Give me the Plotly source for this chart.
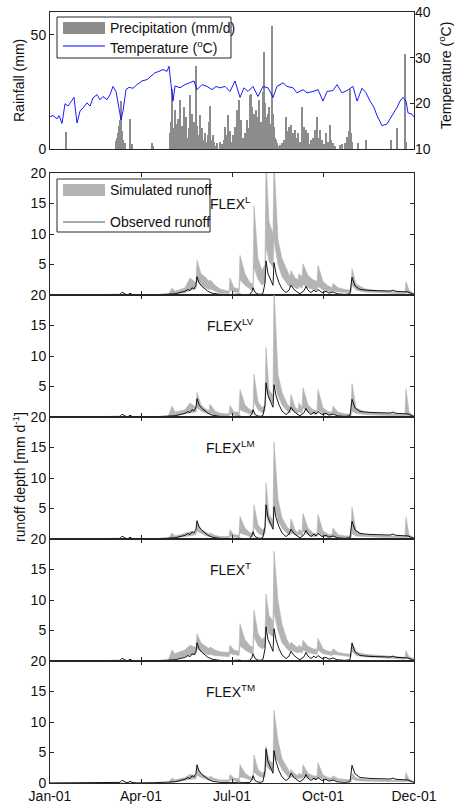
import plotly.graph_objects as go

# ---------------- data ----------------
# Daily precipitation (mm/d), day index from 1 Jan 2001
rain_day = [16, 66, 67, 68, 69, 70, 71, 72, 73, 75, 80, 82, 102, 103,
            120, 121, 122, 123, 124, 125, 126, 127, 128, 129, 130, 131, 132, 133, 134, 135, 136, 137, 138, 139,
            140, 141, 142, 143, 144, 145, 146, 147, 148, 149, 150, 151, 152, 153, 154, 155, 156, 157, 158, 159,
            160, 161, 162, 163, 164, 165, 167, 170, 172, 174, 175, 176, 177, 178, 179, 180, 181, 183, 184, 185,
            186, 187, 188, 189, 190, 191, 192, 193, 194, 195, 196, 197, 198, 199, 200, 201, 202, 203, 204, 205,
            206, 207, 208, 209, 210, 211, 212, 213, 214, 215, 216, 217, 218, 219, 220, 221, 222, 223, 224, 225,
            226, 227, 228, 230, 232, 234, 236, 237, 238, 239, 240, 241, 242, 243, 244, 245, 246, 247, 248, 250,
            252, 253, 254, 255, 256, 257, 258, 259, 261, 263, 265, 267, 268, 269, 270, 272, 274, 276, 278, 280,
            281, 283, 285, 290, 292, 295, 297, 299, 300, 301, 302, 308, 316, 341, 347, 355, 356]
rain_mm = [7.5, 3.5, 5, 7, 10, 12.6, 21, 8, 4, 2.5, 13, 2, 2.5, 1.2,
           7, 12, 26.4, 9, 5, 17, 11, 4, 13, 6, 21.3, 8, 10, 3, 18.4, 7, 14, 5, 2.5, 9,
           23.5, 6, 15.5, 4, 12, 8, 36.5, 10, 6, 3, 15, 5, 9, 2, 4, 7, 2, 3, 6, 12,
           19, 4, 2, 6, 3, 1.5, 2.5, 3, 2, 4, 9.7, 3, 6, 14.8, 5, 8, 3, 6, 2, 9.7,
           4, 17, 8, 21.3, 6, 12.6, 3, 5, 2, 6.8, 3, 12.6, 4, 9, 23.5, 24, 18.4, 7, 15.5, 4,
           17, 10, 14, 21.3, 8, 12, 5, 25, 42.3, 20, 14, 9, 15.5, 18.4, 11, 7, 53.9, 15.5, 9.7, 5,
           3.9, 2.5, 1.5, 1.7, 2.5, 4, 14.1, 8, 5, 9.7, 3, 10.4, 4, 7, 2, 8.3, 3, 5, 6.8, 3,
           18.4, 6, 9.7, 4, 8.3, 3, 6.8, 2, 3.9, 5, 8.3, 14.1, 5, 2, 8.3, 3.9, 2, 6.8, 3, 10.4,
           4, 2.5, 1.5, 1.7, 2, 2.5, 5.4, 8, 26.4, 6.8, 3, 2.5, 4, 4, 9, 41.6, 3]

# Air temperature (deg C)
temp_day = [0, 3, 7, 9, 12, 15, 18, 22, 24, 27, 30, 33, 37, 40, 43, 47, 50, 53, 57, 60, 63, 66, 68, 71, 73,
            76, 79, 83, 87, 92, 97, 101, 105, 109, 113, 117, 119, 121, 123, 125, 130, 135, 140, 144, 147,
            152, 157, 162, 166, 170, 175, 180, 185, 190, 194, 198, 203, 208, 213, 218, 223, 227, 233, 237,
            243, 247, 253, 257, 263, 268, 273, 277, 283, 287, 292, 297, 303, 307, 312, 316, 320, 324, 327,
            332, 337, 342, 347, 350, 353, 356, 358, 362, 364]
temp_val = [17.1, 17.3, 16.6, 17.3, 15.6, 19.9, 19.4, 20.7, 21.3, 15.7, 18.3, 19.0, 20.1, 19.4, 21.2, 21.9,
            20.8, 21.5, 20.8, 21.9, 23.7, 22.6, 19.7, 16.4, 18.3, 23.0, 23.5, 23.3, 24.1, 24.9, 25.2, 25.9,
            26.7, 27.0, 27.4, 27.0, 28.1, 24.1, 20.5, 23.8, 23.4, 24.1, 24.5, 24.9, 23.0, 24.1, 23.7, 23.0,
            23.7, 23.4, 23.7, 22.6, 24.9, 21.3, 23.4, 22.6, 23.7, 21.5, 23.7, 23.4, 21.3, 23.7, 24.5, 23.7,
            23.4, 22.3, 23.0, 22.3, 22.6, 23.0, 20.5, 22.6, 22.8, 24.1, 22.3, 22.8, 23.7, 20.5, 23.3, 22.3,
            20.5, 19.1, 17.3, 15.1, 15.5, 17.3, 19.1, 20.5, 21.3, 20.5, 17.9, 17.6, 17.0]

# Observed runoff (mm/d)
obs_day = [0, 68, 70, 72, 74, 76, 78, 80, 82, 86, 105, 110, 115, 120, 125, 130, 135, 138, 140, 142, 144, 146,
           147, 149, 152, 155, 158, 162, 166, 170, 180, 185, 188, 190, 192, 200, 202, 203, 205, 208, 211, 213,
           215, 216, 218, 220, 221, 223, 224, 226, 229, 232, 236, 239, 241, 244, 247, 250, 254, 256, 258, 261,
           264, 266, 268, 272, 276, 279, 283, 287, 291, 295, 300, 301, 302, 305, 310, 320, 330, 340, 343, 346,
           352, 358, 364]
obs_val = [0, 0, 0.1, 0.45, 0.2, 0.1, 0.05, 0.3, 0.1, 0, 0.05, 0.1, 0.1, 0.1, 0.2, 0.4, 0.6, 0.9, 0.7, 1.2,
           1.0, 1.6, 3.0, 2.0, 1.4, 1.0, 0.6, 0.3, 0.2, 0.1, 0.05, 0.1, 0.2, 0.15, 0.05, 0.1, 0.6, 1.2, 0.4,
           0.15, 0.1, 0.3, 2.0, 5.6, 3.5, 2.6, 2.2, 1.6, 5.3, 3.5, 2.0, 1.0, 0.4, 0.8, 1.6, 0.9, 0.5, 0.2, 0.7,
           1.4, 0.8, 0.4, 0.8, 0.5, 0.9, 0.4, 0.6, 0.3, 0.5, 0.2, 0.15, 0.1, 0.2, 1.5, 2.9, 1.5, 0.9, 0.75,
           0.7, 0.65, 0.8, 0.6, 0.55, 0.5, 0.1]

# Simulated runoff bounds (mm/d) for the five model structures
sim_day = [0, 118, 122, 125, 130, 135, 140, 146, 147, 151, 155, 159, 160, 165, 170, 179, 180, 184, 189, 190,
           195, 200, 203, 204, 208, 212, 215, 216, 219, 223, 224, 228, 232, 237, 240, 241, 245, 248, 249, 252,
           253, 258, 263, 267, 268, 273, 278, 282, 283, 288, 295, 301, 302, 306, 315, 330, 345, 355, 356, 359, 364]

flexL_hi = [0, 0, 1.1, 0.6, 0.9, 1.2, 2.8, 2.0, 5.7, 3.5, 3.0, 2.2, 2.5, 1.6, 1.0, 0.6, 2.8, 1.2, 1.0, 6.5,
            3.5, 2.0, 1.8, 14.6, 6.0, 4.0, 5.0, 22, 12, 10, 22, 9, 6, 4, 3, 4.0, 2.8, 2.5, 3.5, 3.0,
            5.1, 3.2, 2.5, 2.2, 4.9, 2.2, 1.5, 1.2, 1.9, 1.2, 0.9, 0.8, 4.3, 1.8, 1.0, 0.7, 0.5, 0.4, 2.2, 0.8, 0.2]
flexL_lo = [0, 0, 0.1, 0.1, 0.3, 0.4, 0.8, 1.0, 2.5, 1.6, 1.3, 0.9, 1.0, 0.6, 0.3, 0.2, 0.8, 0.5, 0.4, 2.5,
            1.6, 1.0, 0.8, 4.5, 2.6, 1.6, 2.0, 8, 5.5, 4.5, 9, 5, 3, 1.8, 1.3, 1.6, 1.2, 1.0, 1.4, 1.1,
            1.7, 1.2, 0.9, 0.8, 1.4, 0.8, 0.6, 0.5, 0.7, 0.5, 0.4, 0.4, 1.6, 0.8, 0.5, 0.4, 0.3, 0.2, 0.4, 0.2, 0.1]
flexLV_hi = [0, 0, 1.8, 0.8, 1.0, 1.2, 2.3, 1.6, 4.0, 2.0, 1.4, 1.0, 2.1, 1.0, 0.6, 0.5, 1.9, 0.8, 0.8, 4.5,
             2.0, 1.2, 1.0, 7.0, 2.5, 1.5, 2.0, 11.4, 4.5, 3.5, 21, 7, 4, 2.2, 1.6, 3.7, 1.6, 1.2, 2.3, 1.5,
             4.8, 2.0, 1.2, 1.0, 4.5, 1.5, 0.9, 0.8, 1.8, 0.8, 0.5, 0.5, 5.5, 1.5, 0.8, 0.6, 0.5, 0.4, 4.6, 0.8, 0.2]
flexLV_lo = [0, 0, 0.1, 0.2, 0.3, 0.5, 0.7, 0.8, 1.5, 1.0, 0.7, 0.5, 0.6, 0.3, 0.2, 0.1, 0.5, 0.3, 0.3, 1.2,
             0.8, 0.5, 0.4, 2.5, 1.2, 0.7, 0.9, 5.0, 3.0, 2.2, 6.0, 3.5, 2.0, 1.0, 0.7, 1.2, 0.8, 0.6, 0.9, 0.6,
             1.5, 0.8, 0.5, 0.4, 1.2, 0.5, 0.4, 0.3, 0.6, 0.3, 0.2, 0.2, 1.0, 0.6, 0.4, 0.3, 0.2, 0.2, 0.3, 0.2, 0.1]
flexLM_hi = [0, 0, 1.0, 0.5, 0.7, 0.9, 1.2, 1.1, 2.9, 1.6, 1.2, 0.8, 1.0, 0.6, 0.4, 0.4, 1.5, 0.7, 0.6, 3.7,
             1.8, 1.0, 0.9, 5.6, 2.3, 1.5, 1.8, 9.2, 4.0, 3.0, 15.9, 6.5, 3.5, 2.0, 1.5, 3.3, 1.5, 1.0, 1.6, 1.2,
             4.2, 1.8, 1.0, 0.9, 4.0, 1.3, 0.8, 0.7, 1.8, 0.7, 0.5, 0.5, 5.2, 1.3, 0.7, 0.6, 0.5, 0.4, 3.6, 0.7, 0.2]
flexLM_lo = [0, 0, 0.1, 0.2, 0.3, 0.4, 0.6, 0.7, 1.3, 0.9, 0.6, 0.4, 0.5, 0.3, 0.2, 0.1, 0.4, 0.3, 0.3, 1.0,
             0.7, 0.4, 0.4, 2.0, 1.0, 0.6, 0.8, 4.0, 2.5, 2.0, 5.5, 3.0, 1.8, 0.9, 0.6, 1.0, 0.7, 0.5, 0.8, 0.5,
             1.3, 0.7, 0.4, 0.4, 1.0, 0.5, 0.3, 0.3, 0.5, 0.3, 0.2, 0.2, 0.9, 0.5, 0.4, 0.3, 0.2, 0.2, 0.3, 0.2, 0.1]
flexT_hi = [0, 0, 1.8, 1.2, 1.5, 1.8, 2.6, 2.2, 4.5, 3.0, 2.5, 2.0, 2.3, 1.8, 1.5, 1.4, 2.6, 1.8, 1.6, 6.1,
            3.5, 2.5, 2.3, 8.3, 4.5, 3.5, 4.0, 11.0, 7.5, 6.5, 18.0, 9.9, 6.0, 3.5, 2.6, 3.1, 2.5, 2.2, 2.6, 2.2,
            3.4, 2.4, 2.0, 1.9, 3.7, 2.0, 1.6, 1.5, 2.0, 1.4, 1.2, 1.1, 3.1, 1.5, 1.1, 0.9, 0.7, 0.6, 1.7, 0.7, 0.4]
flexT_lo = [0, 0, 0.2, 0.3, 0.5, 0.7, 1.0, 1.1, 2.0, 1.5, 1.2, 1.0, 1.1, 0.9, 0.8, 0.7, 1.2, 1.0, 0.9, 2.5,
            1.8, 1.3, 1.2, 4.0, 2.5, 2.0, 2.2, 6.0, 4.5, 4.0, 8.0, 5.0, 3.0, 2.0, 1.6, 1.8, 1.5, 1.3, 1.5, 1.3,
            1.8, 1.4, 1.2, 1.1, 1.8, 1.2, 1.0, 0.9, 1.1, 0.9, 0.8, 0.7, 1.6, 0.9, 0.7, 0.5, 0.4, 0.3, 0.5, 0.3, 0.2]
flexTM_hi = [0, 0, 0.8, 0.5, 0.7, 0.9, 1.4, 1.2, 2.7, 1.6, 1.2, 0.9, 1.1, 0.7, 0.5, 0.5, 1.4, 0.8, 0.7, 3.0,
             1.6, 1.0, 0.9, 4.6, 2.2, 1.6, 2.0, 6.0, 3.8, 3.2, 11.9, 7.0, 4.0, 2.4, 1.7, 2.2, 1.5, 1.2, 1.6, 1.3,
             3.0, 1.6, 1.2, 1.1, 3.3, 1.3, 0.9, 0.8, 1.2, 0.7, 0.6, 0.5, 1.6, 0.8, 0.6, 0.5, 0.5, 0.4, 1.7, 0.6, 0.2]
flexTM_lo = [0, 0, 0.1, 0.2, 0.3, 0.4, 0.6, 0.7, 1.3, 0.9, 0.7, 0.5, 0.5, 0.4, 0.3, 0.2, 0.5, 0.4, 0.3, 1.0,
             0.8, 0.5, 0.5, 1.8, 1.2, 0.9, 1.0, 3.0, 2.2, 2.0, 4.5, 3.5, 2.2, 1.2, 0.9, 1.0, 0.8, 0.7, 0.8, 0.7,
             1.0, 0.8, 0.6, 0.6, 1.0, 0.6, 0.5, 0.4, 0.5, 0.4, 0.3, 0.3, 0.7, 0.4, 0.3, 0.3, 0.2, 0.2, 0.3, 0.2, 0.1]

model_names = ["FLEX<sup>L</sup>", "FLEX<sup>LV</sup>", "FLEX<sup>LM</sup>", "FLEX<sup>T</sup>", "FLEX<sup>TM</sup>"]
model_hi = [flexL_hi, flexLV_hi, flexLM_hi, flexT_hi, flexTM_hi]
model_lo = [flexL_lo, flexLV_lo, flexLM_lo, flexT_lo, flexTM_lo]

x_tickvals = [0, 91, 182, 273, 364]
x_ticktext = ["Jan-01", "Apr-01", "Jul-01", "Oct-01", "Dec-01"]
runoff_ticks = [0, 5, 10, 15, 20]

# ---------------- figure ----------------
W, H = 454, 804
def px(x): return x / W
def py(y): return 1 - y / H

FONT = "Liberation Sans, Arial, Helvetica, sans-serif"
FS = 14
AX = "#262626"
TXT = "#111111"
BAR = "#8c8c8c"
SIM = "#b4b4b4"

fig = go.Figure()

fig.add_trace(go.Bar(x=rain_day, y=rain_mm, width=0.8, marker=dict(color=BAR, line=dict(width=0)),
                     xaxis="x", yaxis="y", showlegend=False))
fig.add_trace(go.Scatter(x=temp_day, y=temp_val, mode="lines", line=dict(color="#0000ff", width=0.9),
                         xaxis="x", yaxis="y2", showlegend=False))

X0, X1 = 50, 414
bounds = [173, 295, 417, 539, 661, 783]

layout = dict(
    template="none",
    width=W, height=H, autosize=False,
    margin=dict(l=0, r=0, t=0, b=0, pad=0),
    paper_bgcolor="white", plot_bgcolor="white",
    font=dict(family=FONT, size=FS, color=TXT),
    showlegend=False, bargap=0,
    xaxis=dict(domain=[px(X0), px(X1)], anchor="y", range=[0, 364], showticklabels=False, automargin=False,
               ticks="", showline=True, linecolor=AX, linewidth=1, mirror=True,
               showgrid=False, zeroline=False),
    yaxis=dict(domain=[py(149), py(12)], anchor="x", range=[0, 60], tickvals=[0, 50], automargin=False,
               ticks="inside", ticklen=4, tickcolor=AX, showline=True, linecolor=AX, linewidth=1,
               mirror=True, showgrid=False, zeroline=False, tickfont=dict(size=FS, color=TXT)),
    yaxis2=dict(overlaying="y", side="right", anchor="x", range=[10, 40], tickvals=[10, 20, 30, 40],
                automargin=False, ticks="inside", ticklen=4, tickcolor=AX, showline=False, showgrid=False,
                zeroline=False, tickfont=dict(size=FS, color=TXT)),
)

annotations = []
shapes = []

for i in range(5):
    k = i + 3
    xa, ya = f"x{k}", f"y{k}"
    top, bot = bounds[i], bounds[i + 1]
    xs = sim_day + sim_day[::-1]
    ys = model_hi[i] + model_lo[i][::-1]
    fig.add_trace(go.Scatter(x=xs, y=ys, fill="toself", fillcolor=SIM, mode="lines",
                             line=dict(color=SIM, width=0.6), xaxis=xa, yaxis=ya, showlegend=False,
                             hoverinfo="skip"))
    fig.add_trace(go.Scatter(x=obs_day, y=obs_val, mode="lines", line=dict(color="#000000", width=0.9),
                             xaxis=xa, yaxis=ya, showlegend=False))
    ytext = [("0" if i == 4 else ""), "5", "10", "15", "20"]
    layout[f"xaxis{k}"] = dict(domain=[px(X0), px(X1)], anchor=ya, range=[0, 364],
                               tickvals=x_tickvals, ticktext=x_ticktext, automargin=False,
                               showticklabels=(i == 4), ticks="inside", ticklen=4, tickcolor=AX,
                               showline=True, linecolor=AX, linewidth=1, mirror="ticks",
                               showgrid=False, zeroline=False, tickfont=dict(size=FS, color=TXT))
    layout[f"yaxis{k}"] = dict(domain=[py(bot), py(top)], anchor=xa, range=[0, 20],
                               tickvals=runoff_ticks, ticktext=ytext, automargin=False,
                               ticks="inside", ticklen=4, tickcolor=AX,
                               showline=True, linecolor=AX, linewidth=1, mirror="ticks",
                               showgrid=False, zeroline=False, tickfont=dict(size=FS, color=TXT))
    annotations.append(dict(x=px(231), y=py(top + 30), xref="paper", yref="paper",
                            text=model_names[i], showarrow=False, xanchor="center", yanchor="middle",
                            font=dict(size=FS, color=TXT)))

# axis titles
annotations += [
    dict(x=px(19), y=py(81), xref="paper", yref="paper", text="Rainfall (mm)", textangle=-90,
         showarrow=False, xanchor="center", yanchor="middle", font=dict(size=FS, color=TXT)),
    dict(x=px(445), y=py(76), xref="paper", yref="paper", text="Temperature (<sup>o</sup>C)", textangle=-90,
         showarrow=False, xanchor="center", yanchor="middle", font=dict(size=FS, color=TXT)),
    dict(x=px(19), y=py(477), xref="paper", yref="paper", text="runoff depth [mm d<sup>-1</sup>]",
         textangle=-90, showarrow=False, xanchor="center", yanchor="middle", font=dict(size=FS, color=TXT)),
]

# legend 1 (top panel)
shapes += [
    dict(type="rect", xref="paper", yref="paper", x0=px(57), x1=px(231), y0=py(58), y1=py(17),
         line=dict(color=AX, width=1), fillcolor="white", layer="above"),
    dict(type="rect", xref="paper", yref="paper", x0=px(63), x1=px(105), y0=py(34), y1=py(22),
         line=dict(width=0), fillcolor=BAR, layer="above"),
    dict(type="line", xref="paper", yref="paper", x0=px(63), x1=px(105), y0=py(46), y1=py(46),
         line=dict(color="#0000ff", width=1), layer="above"),
]
annotations += [
    dict(x=px(108), y=py(28), xref="paper", yref="paper", text="Precipitation (mm/d)", showarrow=False,
         xanchor="left", yanchor="middle", font=dict(size=FS, color=TXT)),
    dict(x=px(108), y=py(47), xref="paper", yref="paper", text="Temperature (<sup>o</sup>C)", showarrow=False,
         xanchor="left", yanchor="middle", font=dict(size=FS, color=TXT)),
]

# legend 2 (first runoff panel)
shapes += [
    dict(type="rect", xref="paper", yref="paper", x0=px(57), x1=px(210), y0=py(232), y1=py(179),
         line=dict(color=AX, width=1), fillcolor="white", layer="above"),
    dict(type="rect", xref="paper", yref="paper", x0=px(63), x1=px(105), y0=py(196), y1=py(184),
         line=dict(width=0), fillcolor=SIM, layer="above"),
    dict(type="line", xref="paper", yref="paper", x0=px(63), x1=px(105), y0=py(222), y1=py(222),
         line=dict(color="#555555", width=1), layer="above"),
]
annotations += [
    dict(x=px(108), y=py(190), xref="paper", yref="paper", text="Simulated runoff", showarrow=False,
         xanchor="left", yanchor="middle", font=dict(size=FS, color=TXT)),
    dict(x=px(108), y=py(222), xref="paper", yref="paper", text="Observed runoff", showarrow=False,
         xanchor="left", yanchor="middle", font=dict(size=FS, color=TXT)),
]

layout["annotations"] = annotations
layout["shapes"] = shapes
fig.update_layout(**layout)

fig.write_html("out.html")
